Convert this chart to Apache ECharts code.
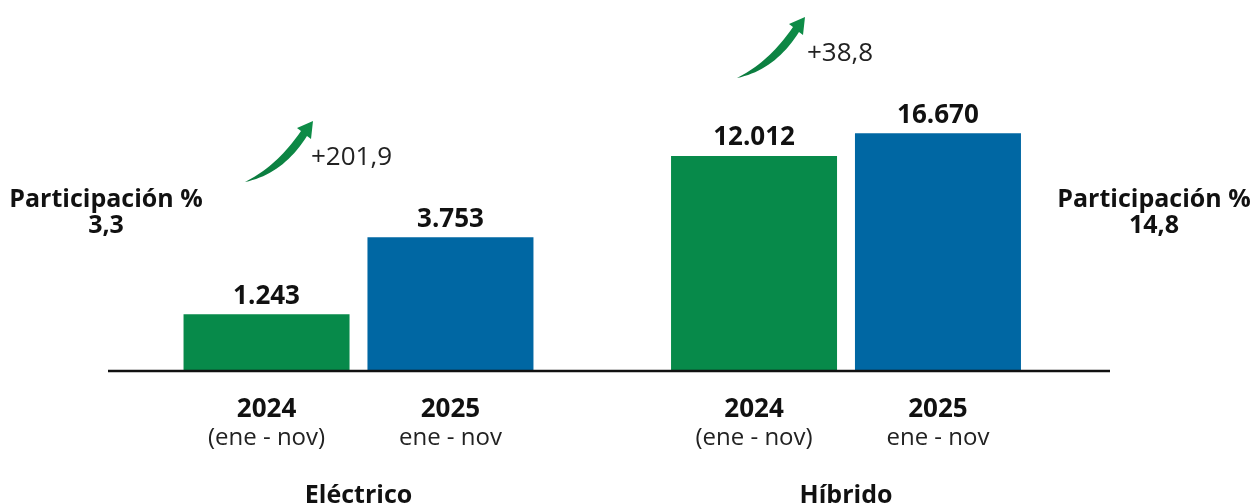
<!DOCTYPE html>
<html>
<head>
<meta charset="utf-8">
<script src="https://cdn.jsdelivr.net/npm/echarts@6/dist/echarts.min.js"></script>
<style>html,body{margin:0;padding:0;background:#fff}#c{width:1251px;height:504px}</style>
</head>
<body>
<div id="c"></div>
<script>
const categories = ['Eléctrico', 'Híbrido'];
const values2024 = [1243, 12012];
const values2025 = [3753, 16670];
const yearLabels = ['2024', '2025'];
const periodLabels2024 = ['(ene - nov)', '(ene - nov)'];
const periodLabels2025 = ['ene - nov', 'ene - nov'];
const growth = ['+201,9', '+38,8'];
const share = ['3,3', '14,8'];

const FONT = '"Open Sans", "Noto Sans", sans-serif';
const GREEN = '#078A4A';
const BLUE = '#0067A3';

function fmt(v) { return v.toLocaleString('de-DE'); }

const chart = echarts.init(document.getElementById('c'));

function quad(p0, c, p1, n) {
  const pts = [];
  for (let i = 0; i <= n; i++) {
    const t = i / n, u = 1 - t;
    pts.push([u * u * p0[0] + 2 * u * t * c[0] + t * t * p1[0], u * u * p0[1] + 2 * u * t * c[1] + t * t * p1[1]]);
  }
  return pts;
}
function arrowPoints(ox, oy) {
  let pts = quad([0, 61], [38, 53], [62, 15], 20);
  pts.push([66, 18], [68, 0], [52, 7]);
  pts = pts.concat(quad([56, 10], [32, 45], [0, 61], 20));
  return pts.map(p => [p[0] + ox, p[1] + oy]);
}
function arrow(x, y) {
  return {
    type: 'polygon',
    shape: { points: arrowPoints(x, y) },
    style: {
      fill: new echarts.graphic.LinearGradient(0, 1, 1, 0, [
        { offset: 0, color: '#0B7A3E' }, { offset: 1, color: '#0E8E48' }
      ])
    }
  };
}

function bottomLabel(periods) {
  return {
    show: true,
    position: ['50%', '100%'],
    align: 'center',
    verticalAlign: 'top',
    offset: [0, 25],
    formatter: p => '{y|' + p.seriesName + '}\n{s|' + periods[p.dataIndex] + '}',
    rich: {
      y: { fontFamily: FONT, fontWeight: 'bold', fontSize: 26, lineHeight: 28, color: '#111', align: 'center' },
      s: { fontFamily: FONT, fontSize: 24, lineHeight: 28, color: '#222', align: 'center' }
    }
  };
}

const topLabel = {
  show: true, position: 'top', distance: 5,
  fontFamily: FONT, fontWeight: 'bold', fontSize: 26, lineHeight: 26, color: '#111',
  formatter: p => fmt(p.value)
};

chart.setOption({
  animation: false,
  backgroundColor: '#fff',
  grid: { left: 114.75, width: 975, top: 100, bottom: 133, containLabel: false, outerBoundsMode: 'none' },
  xAxis: [
    {
      type: 'category', data: categories,
      axisLine: { show: false }, axisTick: { show: false },
      axisLabel: { margin: 111, fontFamily: FONT, fontWeight: 'bold', fontSize: 25, lineHeight: 28, color: '#111' }
    },
    {
      type: 'category', data: categories, show: false
    }
  ],
  yAxis: {
    type: 'log', min: 551, max: 26830, show: false,
    splitLine: { show: false }
  },
  series: [
    { name: yearLabels[0], type: 'bar', data: values2024, barWidth: 166, barGap: '10.8%',
      itemStyle: { color: GREEN }, label: topLabel },
    { name: yearLabels[1], type: 'bar', data: values2025, barWidth: 166, barGap: '10.8%',
      itemStyle: { color: BLUE }, label: topLabel },
    { name: yearLabels[0], type: 'bar', xAxisIndex: 1, data: values2024, barWidth: 166, barGap: '10.8%',
      itemStyle: { color: 'rgba(0,0,0,0)' }, label: bottomLabel(periodLabels2024), silent: true },
    { name: yearLabels[1], type: 'bar', xAxisIndex: 1, data: values2025, barWidth: 166, barGap: '10.8%',
      itemStyle: { color: 'rgba(0,0,0,0)' }, label: bottomLabel(periodLabels2025), silent: true }
  ],
  graphic: [
    { type: 'line', shape: { x1: 108, y1: 371, x2: 1110, y2: 371 }, style: { stroke: '#111', lineWidth: 2.5 }, z: 10 },
    arrow(245, 121),
    arrow(737, 17),
    { type: 'text', x: 311, y: 158, style: { text: growth[0], font: '26px ' + FONT, fill: '#222', textVerticalAlign: 'middle' } },
    { type: 'text', x: 807, y: 54, style: { text: growth[1], font: '26px ' + FONT, fill: '#222', textVerticalAlign: 'middle' } },
    { type: 'text', x: 106, y: 213, style: { text: 'Participación %\n' + share[0], font: 'bold 25px ' + FONT, lineHeight: 26, fill: '#111', textAlign: 'center', textVerticalAlign: 'middle' } },
    { type: 'text', x: 1154, y: 213, style: { text: 'Participación %\n' + share[1], font: 'bold 25px ' + FONT, lineHeight: 26, fill: '#111', textAlign: 'center', textVerticalAlign: 'middle' } }
  ]
});
</script>
</body>
</html>
